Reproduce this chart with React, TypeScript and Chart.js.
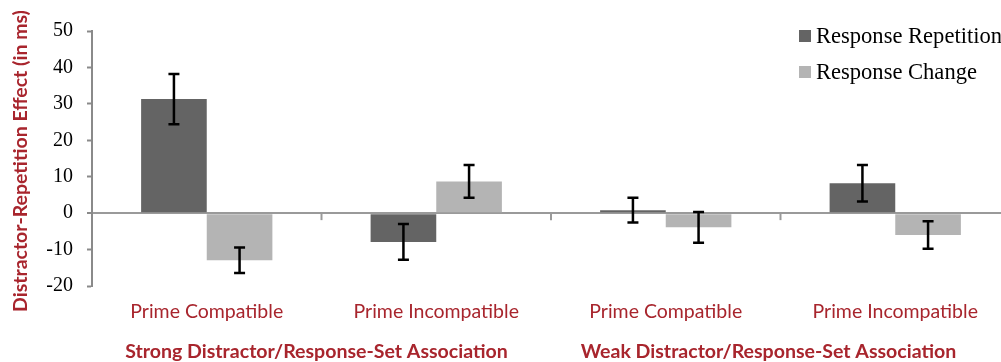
import React, { useEffect, useRef } from "react";
import { Chart, registerables } from "chart.js";

Chart.register(...registerables);

const categories = ["Prime Compatible", "Prime Incompatible", "Prime Compatible", "Prime Incompatible"];
const groupLabels = ["Strong Distractor/Response-Set Association", "Weak Distractor/Response-Set Association"];
const seriesNames = ["Response Repetition", "Response Change"];
const repetitionValues = [31.3, -7.9, 0.8, 8.2];
const repetitionErrors = [6.9, 4.9, 3.4, 5.0];
const changeValues = [-12.9, 8.7, -3.9, -6.0];
const changeErrors = [3.5, 4.5, 4.2, 3.8];
const yTicks = [-20, -10, 0, 10, 20, 30, 40, 50];
const yTitle = "Distractor-Repetition Effect (in ms)";

const DARK = "#646464";
const LIGHT = "#b4b4b4";
const RED = "#a8252d";
const SANS = "Lato, 'Open Sans', sans-serif";
const SERIF = "'Liberation Serif', 'Times New Roman', serif";

function fitSize(text: string, weight: string, family: string, target: number): number {
  const c = document.createElement("canvas").getContext("2d")!;
  c.font = `${weight} 100px ${family}`;
  const w = c.measureText(text).width;
  return (100 * target) / w;
}

export default function App() {
  const ref = useRef<HTMLCanvasElement | null>(null);

  useEffect(() => {
    const canvas = ref.current!;
    const tickSize = fitSize("Prime Compatible", "normal", SANS, 153);
    const titleSize = fitSize(yTitle, "bold", SANS, 302);
    const groupSize = fitSize(groupLabels[0], "bold", SANS, 383);
    const legendSize = fitSize("Response Change", "normal", SERIF, 161);

    const errorPlugin = {
      id: "errbars",
      afterDatasetsDraw(chart: any) {
        const { ctx } = chart;
        const y = chart.scales.y;
        const errs = [repetitionErrors, changeErrors];
        const vals = [repetitionValues, changeValues];
        ctx.save();
        ctx.strokeStyle = "#000";
        ctx.lineWidth = 2.5;
        for (let d = 0; d < 2; d++) {
          const meta = chart.getDatasetMeta(d);
          meta.data.forEach((bar: any, i: number) => {
            const x = bar.x;
            const top = y.getPixelForValue(vals[d][i] + errs[d][i]);
            const bot = y.getPixelForValue(vals[d][i] - errs[d][i]);
            ctx.beginPath();
            ctx.moveTo(x, top);
            ctx.lineTo(x, bot);
            ctx.moveTo(x - 5.5, top);
            ctx.lineTo(x + 5.5, top);
            ctx.moveTo(x - 5.5, bot);
            ctx.lineTo(x + 5.5, bot);
            ctx.stroke();
          });
        }
        ctx.restore();
      },
    };

    const decorPlugin = {
      id: "decor",
      afterDraw(chart: any) {
        const { ctx, chartArea } = chart;
        const xs = chart.scales.x;
        const ys = chart.scales.y;
        const zero = ys.getPixelForValue(0);
        ctx.save();
        // category boundary ticks on the zero line
        ctx.strokeStyle = "#9a9a9a";
        ctx.lineWidth = 2;
        for (let i = 1; i < categories.length; i++) {
          const bx = (xs.getPixelForValue(i - 1) + xs.getPixelForValue(i)) / 2;
          ctx.beginPath();
          ctx.moveTo(bx, zero);
          ctx.lineTo(bx, zero + 7);
          ctx.stroke();
        }
        // y title
        ctx.fillStyle = RED;
        ctx.font = `bold ${titleSize}px ${SANS}`;
        ctx.textAlign = "center";
        ctx.textBaseline = "middle";
        ctx.translate(21, 161);
        ctx.rotate(-Math.PI / 2);
        ctx.fillText(yTitle, 0, 0);
        ctx.setTransform(1, 0, 0, 1, 0, 0);
        // group labels
        ctx.font = `bold ${groupSize}px ${SANS}`;
        ctx.textBaseline = "alphabetic";
        const g1 = (xs.getPixelForValue(0) + xs.getPixelForValue(1)) / 2 - 5;
        const g2 = (xs.getPixelForValue(2) + xs.getPixelForValue(3)) / 2 - 12;
        ctx.fillText(groupLabels[0], g1, 358);
        ctx.fillText(groupLabels[1], g2, 358);
        // legend
        ctx.textAlign = "left";
        ctx.textBaseline = "middle";
        ctx.font = `${legendSize}px ${SERIF}`;
        const colors = [DARK, LIGHT];
        seriesNames.forEach((n, i) => {
          const cy = 36 + i * 36;
          ctx.fillStyle = colors[i];
          ctx.fillRect(799, cy - 6, 12, 12);
          ctx.fillStyle = "#000";
          ctx.fillText(n, 816, cy + 1);
        });
        ctx.restore();
      },
    };

    const chart = new Chart(canvas, {
      type: "bar",
      data: {
        labels: categories,
        datasets: [
          { label: seriesNames[0], data: repetitionValues, backgroundColor: DARK, categoryPercentage: 0.572, barPercentage: 1.0 },
          { label: seriesNames[1], data: changeValues, backgroundColor: LIGHT, categoryPercentage: 0.572, barPercentage: 1.0 },
        ],
      },
      options: {
        animation: false,
        responsive: false,
        devicePixelRatio: 1,
        layout: { padding: { top: 31, right: 0, left: 0, bottom: 0 } },
        plugins: { legend: { display: false }, tooltip: { enabled: false } },
        scales: {
          x: {
            grid: { display: false, drawTicks: false },
            border: { display: false },
            ticks: { color: RED, font: { family: SANS, size: tickSize }, padding: 14, maxRotation: 0, autoSkip: false },
            afterFit: (s: any) => { s.height = 362 - 286; },
          },
          y: {
            min: -20,
            max: 50,
            afterBuildTicks: (s: any) => { s.ticks = yTicks.map((v) => ({ value: v })); },
            grid: {
              drawOnChartArea: true,
              color: (c: any) => (c.tick && c.tick.value === 0 ? "#9a9a9a" : "rgba(0,0,0,0)"),
              lineWidth: (c: any) => (c.tick && c.tick.value === 0 ? 2 : 1),
              tickColor: "#8a8a8a",
              tickLength: 5,
              tickWidth: 2,
            },
            border: { display: true, color: "#8a8a8a", width: 2 },
            ticks: { color: "#000", font: { family: SERIF, size: 20 }, padding: 14 },
            afterFit: (s: any) => { s.width = 92; },
          },
        },
      },
      plugins: [errorPlugin, decorPlugin],
    });
    return () => chart.destroy();
  }, []);

  return (
    <div style={{ position: "fixed", left: 0, top: 0, width: 1001, height: 362, overflow: "hidden", background: "#fff" }}>
      <canvas ref={ref} width={1010} height={362} style={{ width: 1010, height: 362, display: "block" }} />
    </div>
  );
}
